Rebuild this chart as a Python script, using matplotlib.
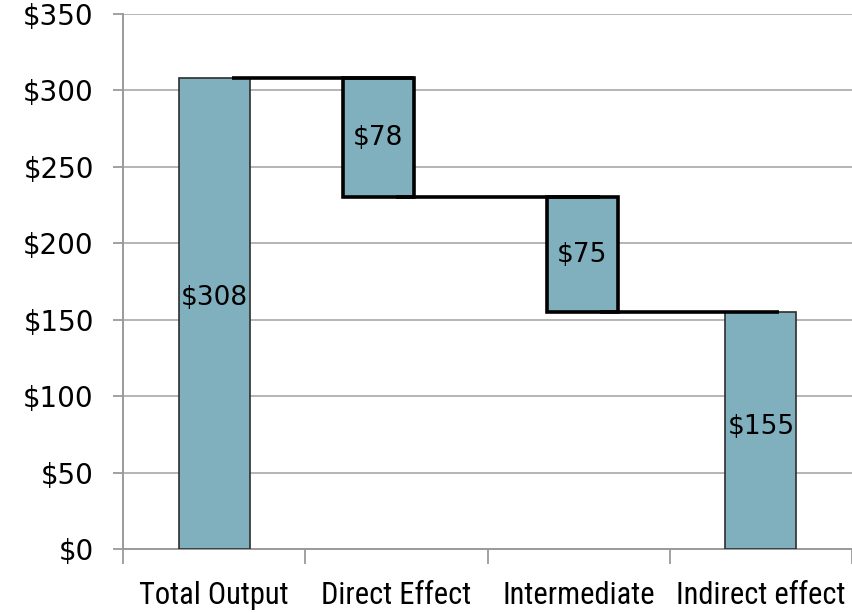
import matplotlib
matplotlib.use("Agg")
import matplotlib.pyplot as plt
from matplotlib.ticker import FixedLocator, FuncFormatter

# Waterfall data
categories = ["Total Output", "Direct Effect", "Intermediate", "Indirect effect"]
total_output = 308
direct_effect = 78
intermediate = 75
indirect_effect = total_output - direct_effect - intermediate  # 155

y_ticks = [0, 50, 100, 150, 200, 250, 300, 350]

bar_color = "#80afbe"
grid_color = "#b4b4b4"
axis_color = "#9a9a9a"

fig = plt.figure(figsize=(8.52, 6.13), dpi=100)
ax = fig.add_axes([0.1444, 0.1044, 0.8556, 0.8728])

pos = [0, 1, 2, 3]
nudge = [0.0, -0.10, 0.02, 0.0]
width = 0.39
xs = [p + n for p, n in zip(pos, nudge)]

# bottoms / heights of each step
bottoms = [0, total_output - direct_effect, total_output - direct_effect - intermediate, 0]
heights = [total_output, direct_effect, intermediate, indirect_effect]
labels = [f"${total_output}", f"${direct_effect}", f"${intermediate}", f"${indirect_effect}"]
label_lift = [0.06, 0.0, 0.0, 0.015]  # fraction of axis height

for i in range(4):
    floating = i in (1, 2)
    ax.bar(xs[i], heights[i], width=width, bottom=bottoms[i], color=bar_color,
           edgecolor="black" if floating else "#2e2e2e",
           linewidth=2.6 if floating else 1.2, zorder=3)
    ax.text(xs[i], bottoms[i] + heights[i] / 2 + label_lift[i] * 350 / 2, labels[i],
            ha="center", va="center", fontsize=19, color="black", zorder=5)

# connectors between steps
levels = [total_output, total_output - direct_effect, indirect_effect]
for i in range(3):
    x0 = xs[i] + width * 0.25
    x1 = xs[i + 1] + width * 0.25 if i != 0 else xs[i + 1] + width / 2
    ax.plot([x0, x1], [levels[i], levels[i]], color="black", linewidth=2.6,
            solid_capstyle="butt", zorder=4)

ax.set_xlim(-0.5, 3.5)
ax.set_ylim(0, 350)

ax.set_yticks(y_ticks)
ax.yaxis.set_major_formatter(FuncFormatter(lambda v, _: f"${int(v)}"))
ax.yaxis.grid(True, color=grid_color, linewidth=1.4, zorder=0)
ax.set_axisbelow(True)

# category boundaries as ticks, names at centres
ax.xaxis.set_major_locator(FixedLocator([-0.5, 0.5, 1.5, 2.5, 3.5]))
ax.xaxis.set_major_formatter(FuncFormatter(lambda v, _: ""))
ax.xaxis.set_minor_locator(FixedLocator(pos))
ax.set_xticklabels(categories, minor=True,
                   family=["Roboto Condensed", "Liberation Sans Narrow", "Roboto", "DejaVu Sans"],
                   fontsize=22)
ax.tick_params(axis="x", which="major", length=11, width=1.3, color=axis_color, direction="out")
ax.tick_params(axis="x", which="minor", length=0, pad=23)
ax.tick_params(axis="y", length=7, width=1.3, color=axis_color, direction="out",
               labelsize=20, pad=14)

for side in ("top", "right"):
    ax.spines[side].set_visible(False)
for side in ("left", "bottom"):
    ax.spines[side].set_color(axis_color)
    ax.spines[side].set_linewidth(1.4)

fig.savefig("out.png", dpi=100)
